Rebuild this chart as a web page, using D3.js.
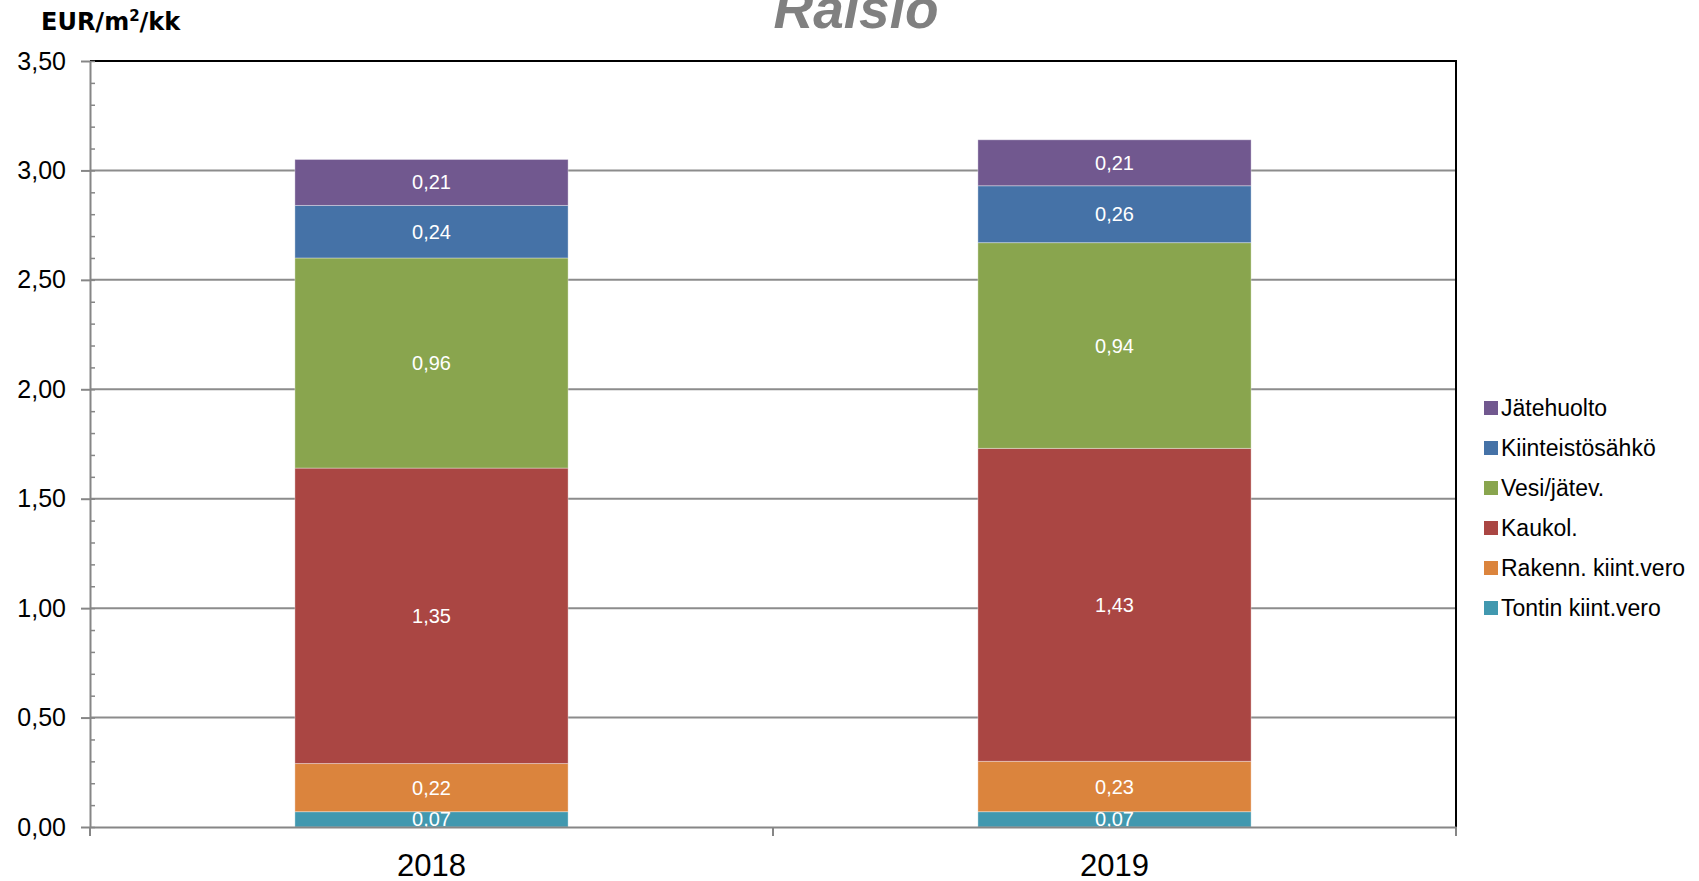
<!DOCTYPE html>
<html>
<head>
<meta charset="utf-8">
<script src="https://cdn.jsdelivr.net/npm/d3@7"></script>
<style>
  body { margin: 0; background: #fff; }
  text { font-family: "Liberation Sans", Arial, sans-serif; }
</style>
</head>
<body>
<script>
var width = 1699,
    height = 881;

// data
var years = ['2018', '2019'];
var seriesNames = ['Tontin kiint.vero', 'Rakenn. kiint.vero', 'Kaukol.', 'Vesi/jätev.', 'Kiinteistösähkö', 'Jätehuolto'];
var tontin = [0.07, 0.07];
var rakenn = [0.22, 0.23];
var kaukol = [1.35, 1.43];
var vesi = [0.96, 0.94];
var sahko = [0.24, 0.26];
var jate = [0.21, 0.21];
var seriesColors = ['#4198AF', '#DB843D', '#AA4643', '#89A54E', '#4572A7', '#71588F'];
var yTicks = [0, 0.5, 1, 1.5, 2, 2.5, 3, 3.5];
var yMinorTicks = [0, 0.1, 0.2, 0.3, 0.4, 0.5, 0.6, 0.7, 0.8, 0.9, 1, 1.1, 1.2, 1.3, 1.4, 1.5, 1.6, 1.7,
  1.8, 1.9, 2, 2.1, 2.2, 2.3, 2.4, 2.5, 2.6, 2.7, 2.8, 2.9, 3, 3.1, 3.2, 3.3, 3.4, 3.5];

var seriesValues = [tontin, rakenn, kaukol, vesi, sahko, jate];

var rows = years.map(function(y, i) {
  var row = { year: y };
  seriesNames.forEach(function(s, j) { row[s] = seriesValues[j][i]; });
  return row;
});

var margin = { top: 61, right: 243, bottom: 54, left: 90 };
var plotW = width - margin.left - margin.right,
    plotH = height - margin.top - margin.bottom;

var svg = d3.select('body')
  .append('svg')
  .attr('width', width)
  .attr('height', height);

var x = d3.scaleBand()
  .domain(years)
  .range([margin.left, margin.left + plotW])
  .paddingInner(0.6)
  .paddingOuter(0.3);

var y = d3.scaleLinear()
  .domain([0, 3.5])
  .range([margin.top + plotH, margin.top]);

var color = d3.scaleOrdinal().domain(seriesNames).range(seriesColors);

var fmt = function(d) { return d3.format('.2f')(d).replace('.', ','); };

// gridlines
svg.append('g')
  .selectAll('line')
  .data(yTicks.filter(function(d) { return d > 0 && d < 3.5; }))
  .enter().append('line')
  .attr('x1', margin.left)
  .attr('x2', margin.left + plotW)
  .attr('y1', function(d) { return y(d); })
  .attr('y2', function(d) { return y(d); })
  .attr('stroke', '#8c8c8c')
  .attr('stroke-width', 2);

// plot border (top/right)
svg.append('path')
  .attr('d', 'M' + margin.left + ',' + y(3.5) + 'H' + (margin.left + plotW) + 'V' + y(0))
  .attr('fill', 'none')
  .attr('stroke', '#000')
  .attr('stroke-width', 2);

// bars
var stack = d3.stack().keys(seriesNames);
var layers = stack(rows);

var layer = svg.append('g')
  .selectAll('g')
  .data(layers)
  .enter().append('g')
  .attr('fill', function(d) { return color(d.key); });

layer.selectAll('rect')
  .data(function(d) { return d; })
  .enter().append('rect')
  .attr('x', function(d) { return x(d.data.year); })
  .attr('width', x.bandwidth())
  .attr('y', function(d) { return y(d[1]); })
  .attr('height', function(d) { return y(d[0]) - y(d[1]); })
  .attr('stroke', 'rgba(255,255,255,0.35)')
  .attr('stroke-width', 1);

layer.selectAll('text')
  .data(function(d) { return d; })
  .enter().append('text')
  .attr('x', function(d) { return x(d.data.year) + x.bandwidth() / 2; })
  .attr('y', function(d) { return (y(d[0]) + y(d[1])) / 2; })
  .attr('dy', '0.35em')
  .attr('text-anchor', 'middle')
  .attr('fill', '#fff')
  .attr('font-size', 20)
  .text(function(d) { return fmt(d[1] - d[0]); });

// y axis
var yAxis = svg.append('g')
  .attr('transform', 'translate(' + margin.left + ',0)')
  .call(d3.axisLeft(y).tickValues(yTicks).tickFormat(fmt).tickSize(9).tickSizeOuter(0).tickPadding(15));

yAxis.select('.domain').attr('stroke', '#868686').attr('stroke-width', 2);
yAxis.selectAll('.tick line').attr('stroke', '#868686').attr('stroke-width', 2);
yAxis.selectAll('.tick text').attr('font-size', 25).attr('fill', '#000')
  .style('font-family', '"Liberation Sans", Arial, sans-serif');

var yMinor = svg.append('g')
  .attr('transform', 'translate(' + margin.left + ',0)')
  .call(d3.axisRight(y).tickValues(yMinorTicks).tickSize(5).tickSizeOuter(0).tickFormat(''));
yMinor.select('.domain').remove();
yMinor.selectAll('.tick line').attr('stroke', '#868686').attr('stroke-width', 1.5);

// x axis
var xAxis = svg.append('g')
  .attr('transform', 'translate(0,' + y(0) + ')')
  .call(d3.axisBottom(x).tickSize(0).tickSizeOuter(0).tickPadding(27));

xAxis.select('.domain').attr('stroke', '#868686').attr('stroke-width', 2);
xAxis.selectAll('.tick text').attr('font-size', 31).attr('fill', '#000')
  .style('font-family', '"Liberation Sans", Arial, sans-serif');

// x axis separator ticks
svg.append('g')
  .selectAll('line')
  .data([margin.left, margin.left + plotW / 2, margin.left + plotW])
  .enter().append('line')
  .attr('x1', function(d) { return d; })
  .attr('x2', function(d) { return d; })
  .attr('y1', y(0))
  .attr('y2', y(0) + 9)
  .attr('stroke', '#868686')
  .attr('stroke-width', 2);

// titles
svg.append('text')
  .attr('x', 856)
  .attr('y', 28)
  .attr('text-anchor', 'middle')
  .attr('font-size', 55)
  .attr('font-weight', 'bold')
  .attr('font-style', 'italic')
  .attr('fill', '#808080')
  .text('Raisio');

var unit = svg.append('text')
  .attr('x', 41)
  .attr('y', 30)
  .attr('font-size', 24)
  .attr('font-weight', 'bold')
  .style('font-family', '"DejaVu Sans", sans-serif')
  .attr('fill', '#000');
unit.append('tspan').text('EUR/m');
unit.append('tspan').attr('font-size', 15).attr('dy', -9).text('2');
unit.append('tspan').attr('dy', 9).text('/kk');

// legend
var legend = svg.append('g')
  .selectAll('g')
  .data(seriesNames.slice().reverse())
  .enter().append('g')
  .attr('transform', function(d, i) { return 'translate(1484,' + (408 + i * 40) + ')'; });

legend.append('rect')
  .attr('x', 0)
  .attr('y', -7)
  .attr('width', 14)
  .attr('height', 14)
  .attr('fill', function(d) { return color(d); });

legend.append('text')
  .attr('x', 17)
  .attr('dy', '0.35em')
  .attr('font-size', 23)
  .attr('fill', '#000')
  .text(function(d) { return d; });
</script>
</body>
</html>
